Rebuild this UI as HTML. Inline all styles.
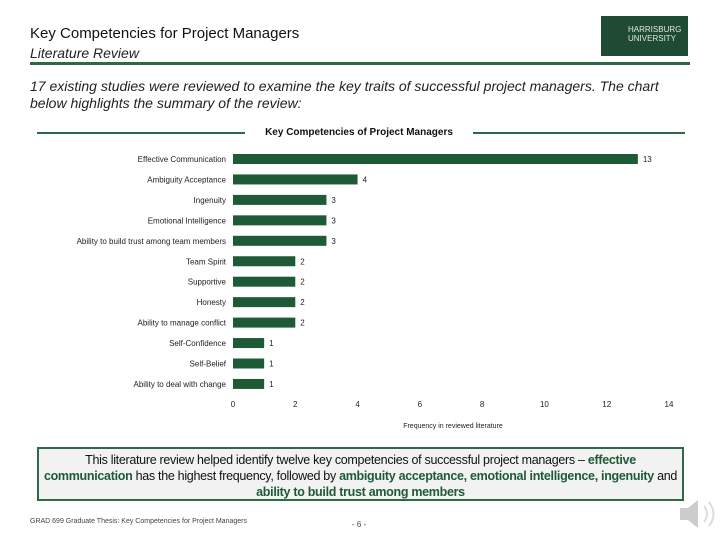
<!DOCTYPE html>
<html><head><meta charset="utf-8"><style>
body{margin:0;width:720px;height:540px;background:#fff;position:relative;overflow:hidden;font-family:"Liberation Sans",sans-serif}
.a{position:absolute}
b{color:#1e5a36}
</style></head><body>
<div class="a" style="left:30px;top:25px;font-size:15px;color:#111">Key Competencies for Project Managers</div>
<div class="a" style="left:30px;top:45px;font-size:14px;font-style:italic;color:#222">Literature Review</div>
<div class="a" style="left:601px;top:16px;width:87px;height:40px;background:#1f4a33;color:#dfe8df;font-size:8px;line-height:9px;padding-left:27px;box-sizing:border-box;padding-top:9px">HARRISBURG<br>UNIVERSITY</div>
<div class="a" style="left:30px;top:62px;width:660px;height:3px;background:#2b6a45"></div>
<div class="a" style="left:30px;top:78px;width:690px;font-size:14px;letter-spacing:0px;font-style:italic;color:#222;line-height:17px;white-space:nowrap">17 existing studies were reviewed to examine the key traits of successful project managers. The chart<br>below highlights the summary of the review:</div>
<div class="a" style="left:37px;top:132px;width:208px;height:2px;background:#2b6a45"></div>
<div class="a" style="left:473px;top:132px;width:212px;height:2px;background:#2b6a45"></div>
<div class="a" style="left:245px;top:127px;width:228px;text-align:center;font-size:10px;font-weight:bold;color:#111">Key Competencies of Project Managers</div>
<svg class="a" style="left:0;top:0" width="720" height="540" id="chart"></svg>
<div class="a" style="left:37px;top:447px;width:647px;height:54px;box-sizing:border-box;border:2px solid #2b6a45;background:#f2f2f2;text-align:center;font-size:12.5px;letter-spacing:-0.3px;line-height:16px;color:#111;padding-top:3px;white-space:nowrap">This literature review helped identify twelve key competencies of successful project managers – <b>effective</b><br><b>communication</b> has the highest frequency, followed by <b>ambiguity acceptance, emotional intelligence, ingenuity</b> and<br><b>ability to build trust among members</b></div>
<div class="a" style="left:30px;top:518px;font-size:7px;color:#444">GRAD 699 Graduate Thesis: Key Competencies for Project Managers</div>
<div class="a" style="left:352px;top:520px;font-size:8px;color:#444">- 6 -</div>
<svg class="a" style="left:676px;top:494px" width="44" height="40"><path d="M4 14h8l10-8v28l-10-8H4z" fill="#ccc"/><path d="M28 12q6 8 0 16M33 8q9 12 0 24" stroke="#ddd" fill="none" stroke-width="2"/></svg>
<script>
const categories=["Effective Communication","Ambiguity Acceptance","Ingenuity","Emotional Intelligence","Ability to build trust among team members","Team Spirit","Supportive","Honesty","Ability to manage conflict","Self-Confidence","Self-Belief","Ability to deal with change"];
const values=[13,4,3,3,3,2,2,2,2,1,1,1];
const ticks=[0,2,4,6,8,10,12,14];
const svg=document.getElementById('chart');
const NS="http://www.w3.org/2000/svg";
const x0=233,x1=669,xmax=14,yTop=159,step=20.45,bh=10;
const xs=v=>x0+(x1-x0)*v/xmax;
const ys=i=>yTop+i*step;
function mk(t,a,txt){const e=document.createElementNS(NS,t);for(const k in a)e.setAttribute(k,a[k]);if(txt!==undefined)e.textContent=txt;svg.appendChild(e);return e;}
categories.forEach((c,i)=>{
 const r=mk('rect',{x:xs(0),y:ys(i)-bh/2,width:xs(values[i])-xs(0),height:bh,fill:'#1e5a36'});
 
 
 const l=mk('text',{x:226,y:ys(i)+3,'text-anchor':'end','font-size':8,fill:'#222','font-family':'Liberation Sans'},c);
 
 
 const v=mk('text',{x:xs(values[i])+5,y:ys(i)+3,'font-size':8,fill:'#222','font-family':'Liberation Sans'},values[i]);
 
 
});
ticks.forEach(t=>{
 const e=mk('text',{x:xs(t),y:407,'text-anchor':'middle','font-size':8,fill:'#222','font-family':'Liberation Sans'},t);
 
 
});
const at=mk('text',{x:453,y:428,'text-anchor':'middle','font-size':7,fill:'#222','font-family':'Liberation Sans'},'Frequency in reviewed literature');


</script>
</body></html>
